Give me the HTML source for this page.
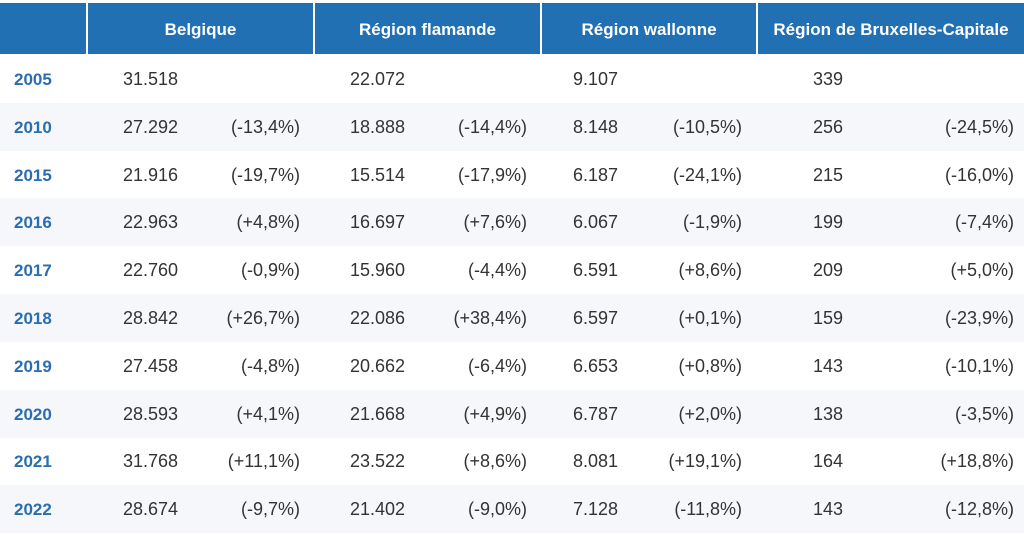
<!DOCTYPE html>
<html><head><meta charset="utf-8"><style>
body{margin:0;width:1024px;height:533px;overflow:hidden;background:#fff;font-family:"Liberation Sans",sans-serif;position:relative}
.hd{position:absolute;top:3px;height:51px;background:#2170b4;color:#fff;font-weight:bold;font-size:17px;line-height:53px;text-align:center;white-space:nowrap}
.row{position:absolute;left:0;width:1024px;height:48px}
.row.g{background:#f5f7fa}
.c{position:absolute;line-height:49px;font-size:18px;color:#333}
.y{left:14px;color:#2a6db0;font-weight:bold;font-size:17px}
.n,.p{text-align:right}
</style></head><body>
<div class="hd" style="left:0;width:86px"></div>
<div class="hd" style="left:88px;width:225px">Belgique</div>
<div class="hd" style="left:315px;width:225px">Région flamande</div>
<div class="hd" style="left:542px;width:214px">Région wallonne</div>
<div class="hd" style="left:758px;width:266px">Région de Bruxelles-Capitale</div>
<div id="body"></div>
<script>
const years=["2005","2010","2015","2016","2017","2018","2019","2020","2021","2022"];
const belgique=["31.518","27.292","21.916","22.963","22.760","28.842","27.458","28.593","31.768","28.674"];
const belgiqueP=["","(-13,4%)","(-19,7%)","(+4,8%)","(-0,9%)","(+26,7%)","(-4,8%)","(+4,1%)","(+11,1%)","(-9,7%)"];
const flamande=["22.072","18.888","15.514","16.697","15.960","22.086","20.662","21.668","23.522","21.402"];
const flamandeP=["","(-14,4%)","(-17,9%)","(+7,6%)","(-4,4%)","(+38,4%)","(-6,4%)","(+4,9%)","(+8,6%)","(-9,0%)"];
const wallonne=["9.107","8.148","6.187","6.067","6.591","6.597","6.653","6.787","8.081","7.128"];
const wallonneP=["","(-10,5%)","(-24,1%)","(-1,9%)","(+8,6%)","(+0,1%)","(+0,8%)","(+2,0%)","(+19,1%)","(-11,8%)"];
const bruxelles=["339","256","215","199","209","159","143","138","164","143"];
const bruxellesP=["","(-24,5%)","(-16,0%)","(-7,4%)","(+5,0%)","(-23,9%)","(-10,1%)","(-3,5%)","(+18,8%)","(-12,8%)"];
const cols=[[belgique,belgiqueP,178,300],[flamande,flamandeP,405,527],[wallonne,wallonneP,618,742],[bruxelles,bruxellesP,843,1014]];
const body=document.getElementById('body');
years.forEach((y,i)=>{
  const r=document.createElement('div');
  r.className='row'+(i%2?' g':'');
  r.style.top=(55+i*47.8)+'px';
  
  
  let h='<div class="c y">'+y+'</div>';
  cols.forEach(c=>{
    h+='<div class="c n" style="right:'+(1024-c[2])+'px">'+c[0][i]+'</div>';
    if(c[1][i])h+='<div class="c p" style="right:'+(1024-c[3])+'px">'+c[1][i]+'</div>';
  });
  r.innerHTML=h;
  body.appendChild(r);
});
</script>
</body></html>
